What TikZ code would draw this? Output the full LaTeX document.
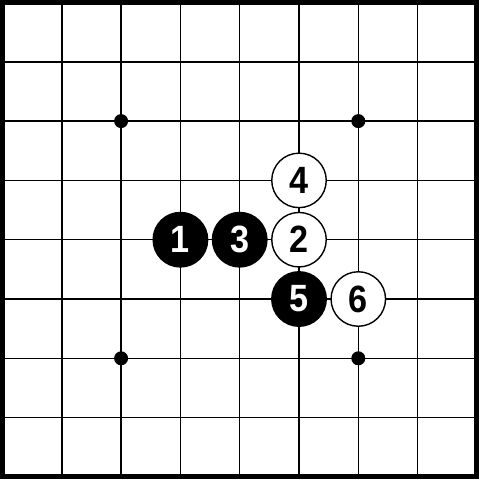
\documentclass[tikz,border=0pt]{standalone}
\usepackage{fontspec}
\setmainfont{Liberation Sans}
\newcommand{\stonenum}[1]{\scalebox{0.9}[1]{#1}}
\tikzset{
  gridline/.style={line width=1.5pt},
  border/.style={line width=5pt},
  hoshi/.style={circle, fill=black, inner sep=0pt, minimum size=14pt},
  stone/.style={circle, draw=black, line width=1.4pt, inner sep=0pt, minimum size=54.5pt,
    font=\fontsize{38}{38}\selectfont\bfseries},
  bstone/.style={stone, fill=black, text=white},
  wstone/.style={stone, fill=white, text=black},
}
\begin{document}
\begin{tikzpicture}[x=1pt,y=-1pt]
\useasboundingbox (0,0) rectangle (480,480);
\begin{scope}[shift={(2.5pt,-2.5pt)}, x=59.3pt, y=-59.3pt]
  \foreach \i in {1,...,7} {
    \draw[gridline] (\i,0) -- (\i,8);
    \draw[gridline] (0,\i) -- (8,\i);
  }
  \draw[border] (0,0) rectangle (8,8);
  \node[hoshi] (h1) at (2,2) {};
  \node[hoshi] (h2) at (6,2) {};
  \node[hoshi] (h3) at (2,6) {};
  \node[hoshi] (h4) at (6,6) {};
  \node[bstone] (s1) at (3,4) {\stonenum{1}};
  \node[wstone] (s2) at (5,4) {\stonenum{2}};
  \node[bstone] (s3) at (4,4) {\stonenum{3}};
  \node[wstone] (s4) at (5,3) {\stonenum{4}};
  \node[bstone] (s5) at (5,5) {\stonenum{5}};
  \node[wstone] (s6) at (6,5) {\stonenum{6}};
\end{scope}
\end{tikzpicture}
\end{document}
